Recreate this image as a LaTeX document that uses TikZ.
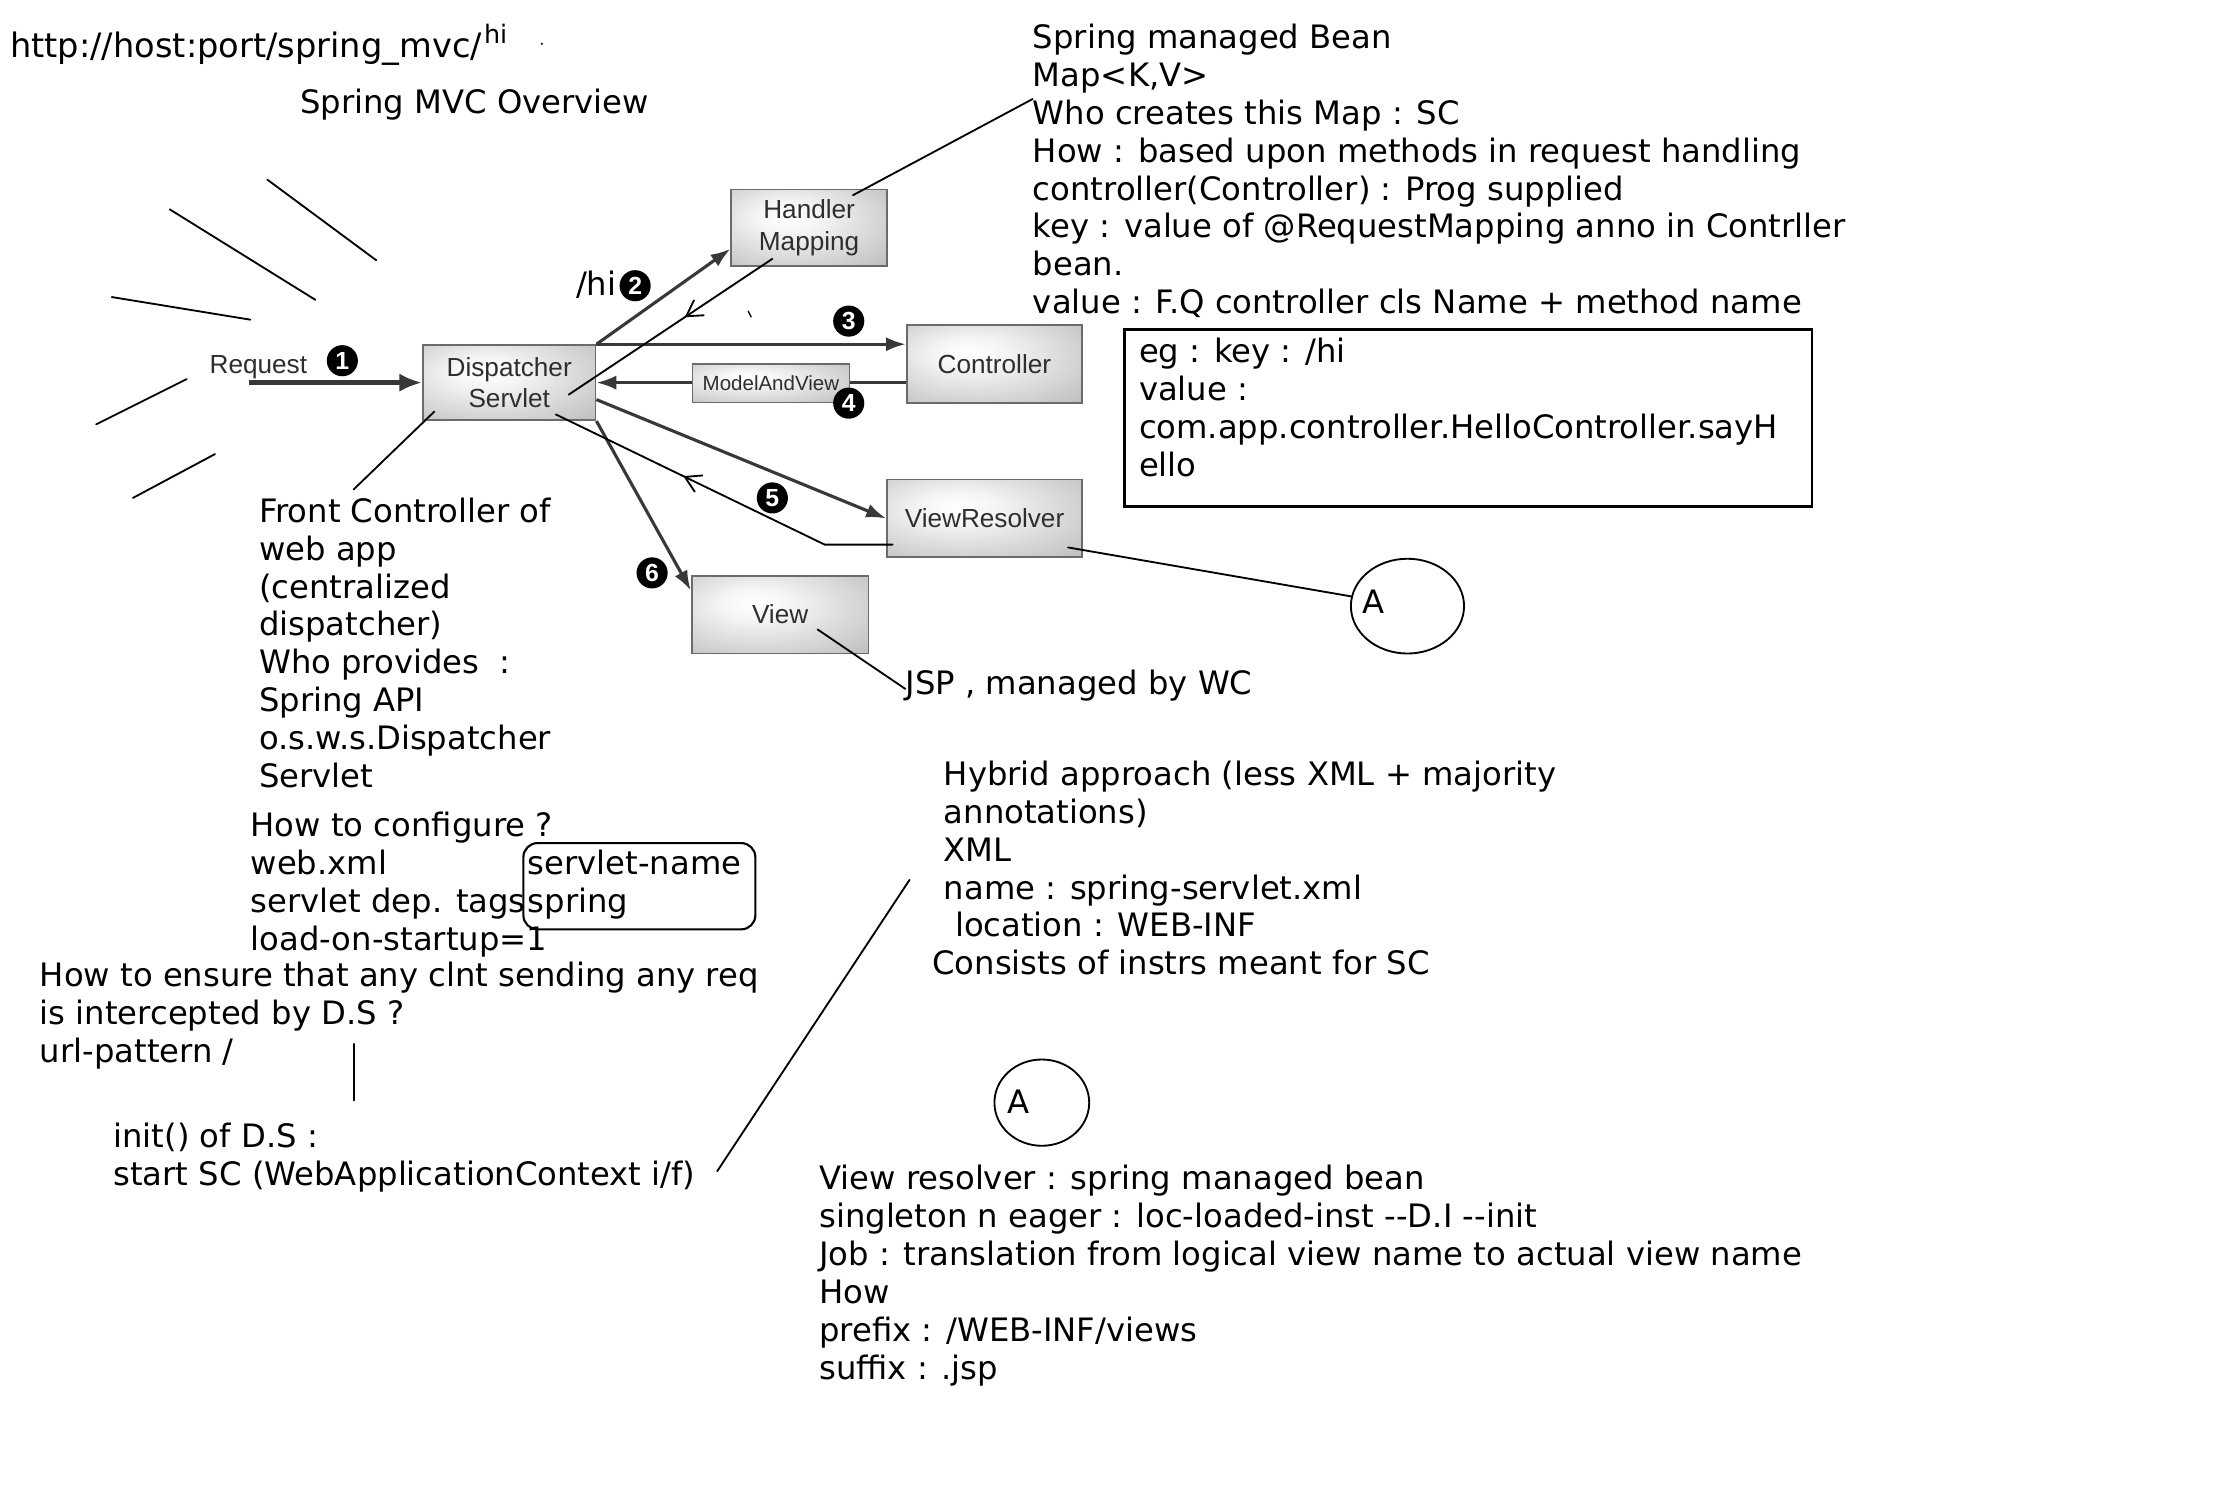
\documentclass[tikz,border=0pt]{standalone}
\usepackage{fontspec}
\setmainfont{DejaVu Sans}
\newfontfamily\figfont{Liberation Sans}
\usetikzlibrary{arrows.meta,decorations.markings,shapes.geometric,calc}
\newcommand\firstln{\rule{0pt}{19pt}}
\pgfdeclareradialshading{boxshade}{\pgfpoint{-8bp}{8bp}}{color(0bp)=(white); color(10bp)=(white!96!black); color(38bp)=(black!24); color(50bp)=(black!32); color(70bp)=(black!36)}
\begin{document}
\begin{tikzpicture}[x=1pt,y=-1pt,
  note/.style={inner sep=0pt, anchor=north west, align=left, font=\fontsize{22.8}{26.8}\selectfont},
  oneline/.style={inner sep=0pt, anchor=base west, font=\fontsize{22.8}{26.8}\selectfont},
  figbox/.style={draw=black!58, line width=1.3pt, shading=boxshade,
     font=\figfont\fontsize{18.5}{22}\selectfont, text=black!82, align=center, inner sep=0pt},
  figarrow/.style={draw=black!78, line width=2.2pt, -{Latex[length=14pt,width=10pt]}},
  numdot/.style={circle, fill=black, inner sep=0pt, minimum size=22pt, text=white,
     font=\figfont\bfseries\fontsize{17.5}{17.5}\selectfont},
  hand/.style={draw=black, line width=1.3pt, line cap=round},
  handarrow/.style={hand, postaction={decorate}, decoration={markings,
     mark=at position #1 with {\arrow{Straight Barb[length=11pt,width=13pt]}}}},
  rimbox/.style={draw=black, inner sep=0pt}
]
\useasboundingbox (0,0) rectangle (1568,1067);
\fill[white] (0,0) rectangle (1568,1067);

% header
\node[oneline, font=\fontsize{23.8}{26.8}\selectfont] (url) at (7,41) {http://host:port/spring\_mvc/};
\node[oneline, font=\fontsize{18}{20}\selectfont] (urlhi) at (342,31) {hi};
\fill (383,31) circle (0.8pt);
\node[oneline] (title) at (212,80) {Spring MVC Overview};

% rays
\draw[hand] (189,127) -- (266,184);
\draw[hand] (120,148) -- (223,212);
\draw[hand] (79,210) -- (177,226);
\draw[hand] (132,268) -- (68,300);
\draw[hand] (152,321) -- (94,352);

% boxes
\node[figbox, minimum width=122pt, minimum height=53pt] (ds) at (360,270.5) {Dispatcher\\Servlet};
\node[figbox, minimum width=110pt, minimum height=54pt] (hm) at (572,161) {Handler\\Mapping};
\node[figbox, minimum width=124pt, minimum height=55pt] (ctrl) at (703,257.5) {Controller};
\node[figbox, minimum width=138pt, minimum height=55pt] (vr) at (696,366.5) {ViewResolver};
\node[figbox, minimum width=125pt, minimum height=55pt] (view) at (551.5,434.5) {View};

% request
\node[inner sep=0pt, anchor=base west, font=\figfont\fontsize{18.5}{22}\selectfont, text=black!82] (req) at (148,264) {Request};
\coordinate (rq) at (176,270.5);
\draw[figarrow, line width=3.6pt, -{Latex[length=16pt,width=13pt]}] (rq) -- (ds.west);

% figure arrows
\draw[figarrow] (ds.north east) -- ([yshift=-15pt]hm.west);
\draw[figarrow] (ds.north east) -- (ds.north east -| ctrl.west);
\draw[figarrow] (ds.east -| ctrl.west) -- (ds.east);
\draw[figarrow] ([yshift=-12pt]ds.east) -- (vr.west);
\draw[figarrow] (ds.south east) -- ([yshift=-11pt]view.north west);

\node[figbox, minimum width=111pt, minimum height=27pt, font=\figfont\fontsize{14.5}{16}\selectfont] (mav) at (545,271) {ModelAndView};

% number dots
\node[numdot] (n1) at (242,255) {1};
\node[numdot] (n2) at (449,202) {2};
\node[numdot] (n3) at (600,227) {3};
\node[numdot] (n4) at (600,285) {4};
\node[numdot] (n5) at (546,352) {5};
\node[numdot] (n6) at (461,405) {6};
\node[oneline] (hi) at (407,209) {/hi};

% hand drawn connectors
\coordinate (hmin) at (546,183);
\coordinate (dsin1) at (402,279);
\draw[handarrow=0.43] (hmin) -- (dsin1);
\draw[hand, line width=1pt] (529,220) -- (531,224);
\coordinate (vrin) at (631,385);
\coordinate (vrbend) at (583,385);
\coordinate (dsin2) at (393,293);
\draw[handarrow=0.614] (vrin) -- (vrbend) -- (dsin2);
\coordinate (hmtop) at (603,138);
\coordinate (trtip) at (730,70);
\draw[hand] (hmtop) -- (trtip);
\coordinate (dsbl) at (307,291);
\coordinate (fcend) at (250,346);
\draw[hand] (dsbl) -- (fcend);
\coordinate (viewin) at (578,445);
\coordinate (jspend) at (640,487);
\draw[hand] (viewin) -- (jspend);
\coordinate (vrrt) at (755,387);
\node[ellipse, draw, line width=1.3pt, minimum width=80pt, minimum height=67pt, inner sep=0pt] (a1) at (995,428.5) {};
\node[oneline] (a1t) at (963,434) {A};
\draw[hand] (vrrt) -- (a1);
\node[ellipse, draw, line width=1.3pt, minimum width=67pt, minimum height=61pt, inner sep=0pt] (a2) at (736.5,779.5) {};
\node[oneline] (a2t) at (712,787) {A};

% text blocks
\node[note] (tr) at (730,15) {\firstln Spring managed Bean\\Map<K,V>\\Who creates this Map : SC\\How : based upon methods in request handling\\controller(Controller) : Prog supplied\\key : value of @RequestMapping anno in Contrller\\bean.\\value : F.Q controller cls Name + method name};

\node[rimbox, line width=1.8pt, minimum width=486pt, minimum height=125pt] (egbox) at (1038,295.5) {};
\node[note] (eg) at (805,237) {\firstln eg : key : /hi\\value :\\com.app.controller.HelloController.sayH\\ello};

\node[note] (fc) at (183,350) {\firstln Front Controller of\\web app\\(centralized\\dispatcher)\\Who provides\ \ :\\Spring API\\o.s.w.s.Dispatcher\\Servlet};

\node[note] (cfg) at (177,572) {\firstln How to configure ?\\web.xml\\servlet dep. tags\\load-on-startup=1};
\node[rimbox, line width=1.5pt, rounded corners=10pt, minimum width=164pt, minimum height=61pt] (sbox) at (452,626.5) {};
\node[note] (sn) at (373,599) {\firstln servlet-name\\spring};

\node[note] (ens) at (28,678) {\firstln How to ensure that any clnt sending any req\\is intercepted by D.S ?\\url-pattern /};
\coordinate (vt) at (250,738);
\coordinate (vb) at (250,778);
\draw[hand] (vt) -- (vb);
\node[note] (init) at (80,792) {\firstln init() of D.S :\\start SC (WebApplicationContext i/f)};
\coordinate (il) at (507,828);
\coordinate (ir) at (643,622);
\draw[hand] (il) -- (ir);

\node[note] (hyb) at (659,536) {\firstln\hspace*{8pt}Hybrid approach (less XML + majority\\\hspace*{8pt}annotations)\\\hspace*{8pt}XML\\\hspace*{8pt}name : spring-servlet.xml\\\hspace*{16pt}location : WEB-INF\\Consists of instrs meant for SC};

\node[oneline] (jsp) at (640,491) {JSP , managed by WC};

\node[note] (vrn) at (579,822) {\firstln View resolver : spring managed bean\\singleton n eager : loc-loaded-inst -{}-D.I -{}-init\\Job : translation from logical view name to actual view name\\How\\prefix : /WEB-INF/views\\suffix : .jsp};
\end{tikzpicture}
\end{document}
